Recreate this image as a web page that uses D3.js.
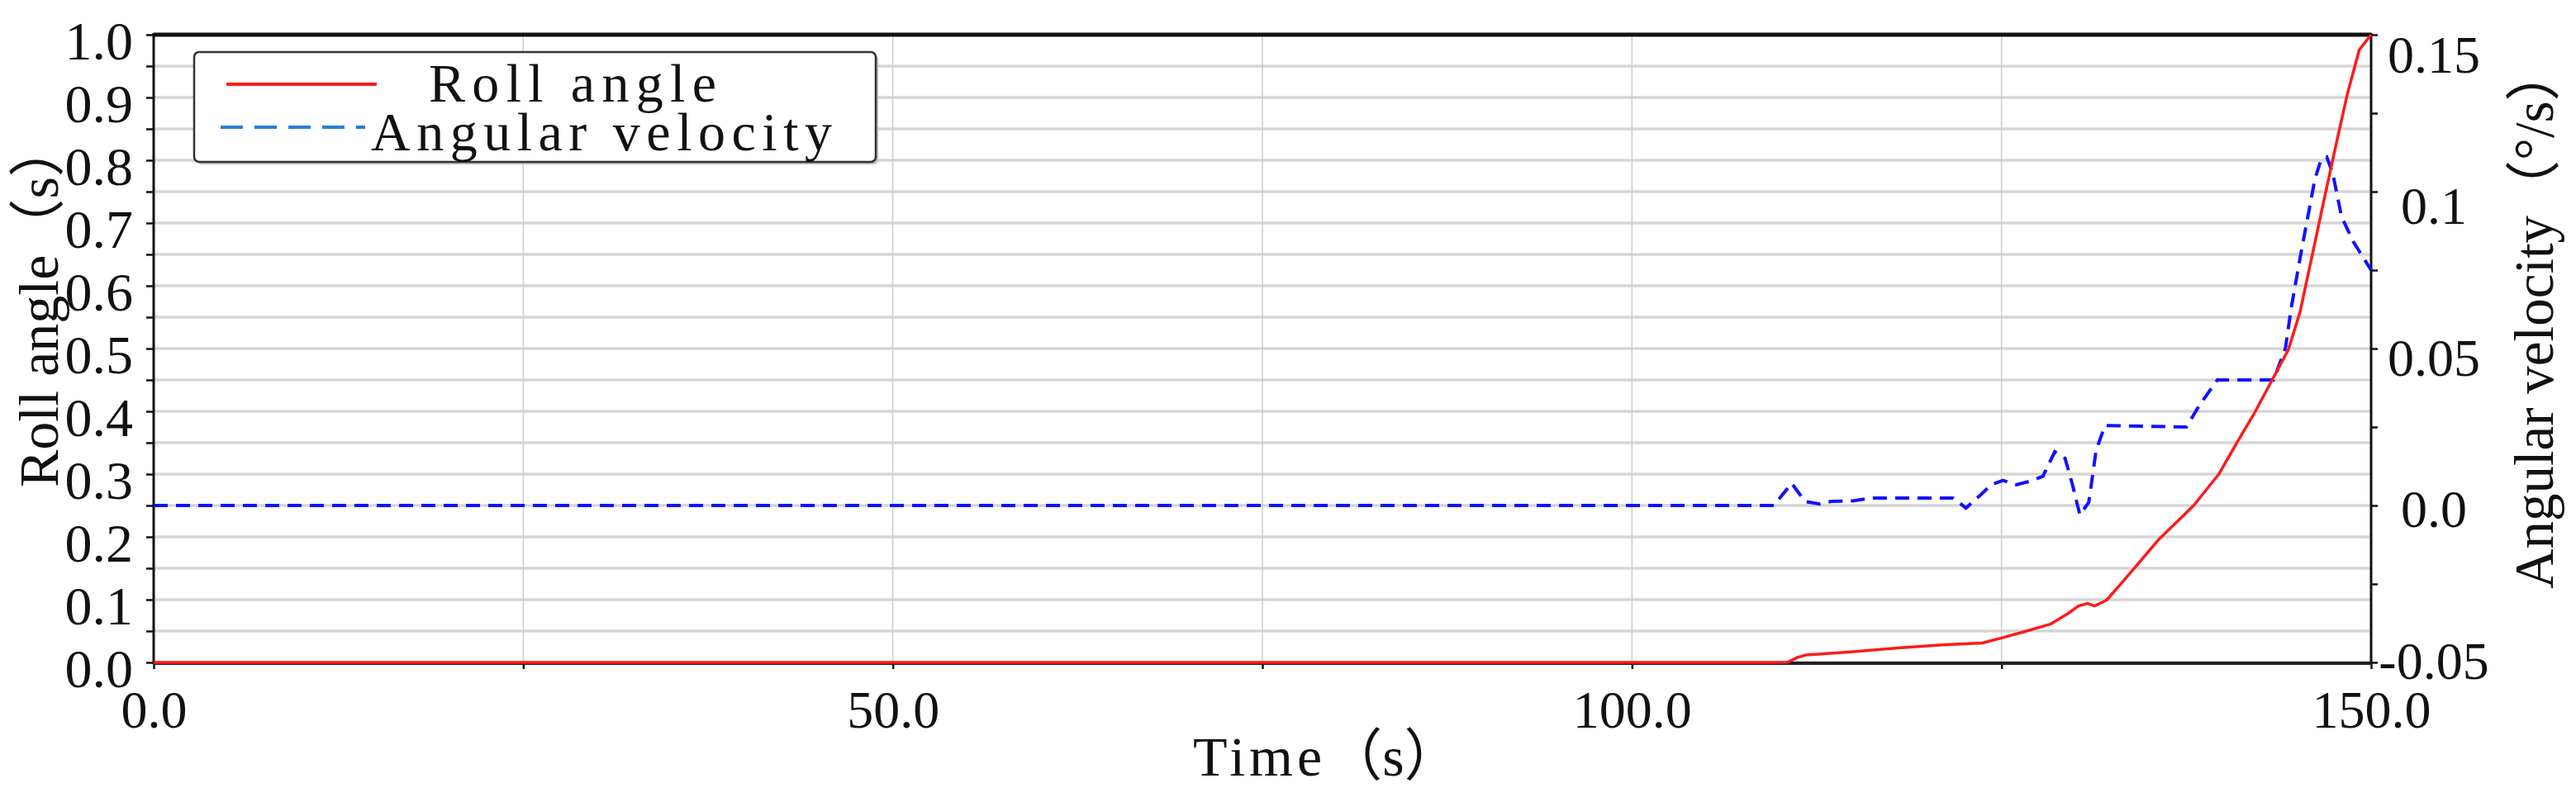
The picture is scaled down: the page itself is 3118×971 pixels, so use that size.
<!DOCTYPE html>
<html lang="en">
    <head>
        <meta charset="UTF-8" />
        <title>Roll angle and angular velocity</title>
        <style>
            body {
                margin: 0;
                padding: 0;
                background-color: #ffffff;
            }
            svg text {
                font-family: 'Liberation Serif', 'Noto Sans CJK SC', serif;
                fill: #111;
            }
        </style>
    </head>
    <body>
        <div id="chart"></div>
        <script src="https://d3js.org/d3.v7.min.js"></script>
        <script>
            // values
            const timeTicks = [0, 25, 50, 75, 100, 125, 150];
            const timeTickLabels = ['0.0', '', '50.0', '', '100.0', '', '150.0'];
            const rollTicks = [0, 0.05, 0.1, 0.15, 0.2, 0.25, 0.3, 0.35, 0.4, 0.45, 0.5, 0.55, 0.6, 0.65, 0.7, 0.75, 0.8, 0.85, 0.9, 0.95, 1.0];
            const rollTickLabels = ['0.0', '', '0.1', '', '0.2', '', '0.3', '', '0.4', '', '0.5', '', '0.6', '', '0.7', '', '0.8', '', '0.9', '', '1.0'];
            const velTicks = [-0.05, -0.025, 0, 0.025, 0.05, 0.075, 0.1, 0.125, 0.15];
            const velTickLabels = ['-0.05', '', '0.0', '', '0.05', '', '0.1', '', '0.15'];

            const rollTime = [0, 110.5, 111.2, 111.8, 115, 118, 121, 123.7, 125, 126.4, 128.3, 129.5, 130.2, 130.8, 131.3, 132.1, 133.4, 135.6, 138, 139.7, 141, 142.1, 143.4, 144.4, 145.2, 146, 146.8, 147.6, 148.4, 149.2, 150];
            const rollAngle = [0, 0, 0.008, 0.012, 0.017, 0.023, 0.028, 0.031, 0.039, 0.048, 0.061, 0.078, 0.09, 0.094, 0.09, 0.099, 0.134, 0.195, 0.25, 0.3, 0.353, 0.397, 0.454, 0.498, 0.559, 0.647, 0.735, 0.822, 0.906, 0.976, 1.0];

            const velTime = [0, 109.6, 110.8, 111.7, 112.7, 113.5, 115.0, 116.3, 120.8, 121.7, 122.6, 123.5, 124.3, 125.1, 126.0, 126.9, 127.8, 128.6, 129.3, 129.8, 130.3, 130.9, 131.4, 132.0, 137.5, 138.4, 139.6, 143.4, 144.2, 144.6, 145.2, 145.8, 146.2, 146.6, 147.0, 147.4, 148.0, 148.8, 150];
            const angVelocity = [0, 0, 0.0071, 0.0013, 0.0005, 0.0013, 0.0015, 0.0024, 0.0024, 0.0024, -0.0008, 0.003, 0.0066, 0.008, 0.0066, 0.0077, 0.0093, 0.0171, 0.015, 0.0066, -0.003, 0.001, 0.0176, 0.0255, 0.025, 0.032, 0.04, 0.04, 0.05, 0.063, 0.079, 0.094, 0.104, 0.11, 0.111, 0.106, 0.092, 0.084, 0.075];

            const W = 3118;
            const H = 971;
            const plotLeft = 186;
            const plotRight = 2870;
            const plotTop = 42;
            const plotBottom = 802;

            const svg = d3.select('#chart').append('svg').attr('width', W).attr('height', H);
            svg.append('rect').attr('width', W).attr('height', H).attr('fill', '#fff');

            const x = d3.scaleLinear().domain([0, 150]).range([plotLeft, plotRight]);
            const yL = d3.scaleLinear().domain([0, 1]).range([plotBottom, plotTop]);
            const yR = d3.scaleLinear().domain([-0.05, 0.15]).range([plotBottom, plotTop]);

            // grid
            svg.append('g')
                .selectAll('line')
                .data(rollTicks)
                .join('line')
                .attr('x1', plotLeft)
                .attr('x2', plotRight)
                .attr('y1', (d) => yL(d))
                .attr('y2', (d) => yL(d))
                .attr('stroke', '#d6d6d6')
                .attr('stroke-width', 3.5);

            svg.append('g')
                .selectAll('line')
                .data(timeTicks.slice(1, -1))
                .join('line')
                .attr('x1', (d) => x(d))
                .attr('x2', (d) => x(d))
                .attr('y1', plotTop)
                .attr('y2', plotBottom)
                .attr('stroke', '#cccccc')
                .attr('stroke-width', 1.5);

            // axes
            const axLeft = svg
                .append('g')
                .attr('transform', `translate(${plotLeft},0)`)
                .call(d3.axisLeft(yL).tickValues(rollTicks).tickSize(9).tickFormat((d, i) => rollTickLabels[i]));
            axLeft.selectAll('text').attr('x', -25).attr('dy', '0.38em').attr('font-size', 66).attr('transform', 'translate(0,4)');

            const axRight = svg
                .append('g')
                .attr('transform', `translate(${plotRight},0)`)
                .call(d3.axisRight(yR).tickValues(velTicks).tickSize(8).tickFormat((d, i) => velTickLabels[i]));
            const labelShift = d3.scaleLinear().domain([-0.05, 0.15]).range([-4, 22]);
            axRight
                .selectAll('text')
                .attr('x', 76)
                .attr('text-anchor', 'middle')
                .attr('dy', '0.36em')
                .attr('font-size', 64)
                .attr('transform', (d) => `translate(0,${labelShift(d)})`);

            const axBottom = svg
                .append('g')
                .attr('transform', `translate(0,${plotBottom})`)
                .call(d3.axisBottom(x).tickValues(timeTicks).tickSize(8).tickFormat((d, i) => timeTickLabels[i]));
            axBottom.selectAll('text').attr('y', 79).attr('dy', 0).attr('font-size', 64);

            [axLeft, axRight, axBottom].forEach((g) => {
                g.select('.domain').remove();
                g.selectAll('.tick line').attr('stroke', '#111').attr('stroke-width', 2.5);
            });

            // frame
            svg.append('line').attr('x1', plotLeft).attr('x2', plotLeft).attr('y1', plotTop - 2).attr('y2', plotBottom + 2).attr('stroke', '#111').attr('stroke-width', 3);
            svg.append('line').attr('x1', plotRight).attr('x2', plotRight).attr('y1', plotTop - 2).attr('y2', plotBottom + 2).attr('stroke', '#111').attr('stroke-width', 3);
            svg.append('line').attr('x1', plotLeft).attr('x2', plotRight).attr('y1', plotTop).attr('y2', plotTop).attr('stroke', '#111').attr('stroke-width', 5);
            svg.append('line').attr('x1', plotLeft).attr('x2', plotRight).attr('y1', plotBottom + 1).attr('y2', plotBottom + 1).attr('stroke', '#222').attr('stroke-width', 4);

            // series
            const rollLine = d3
                .line()
                .x((d, i) => x(rollTime[i]))
                .y((d) => yL(d));
            const velLine = d3
                .line()
                .x((d, i) => x(velTime[i]))
                .y((d) => yR(d));

            svg.append('path').datum(angVelocity).attr('fill', 'none').attr('stroke', '#1212ff').attr('stroke-width', 4).attr('stroke-dasharray', '17,10').attr('d', velLine);
            svg.append('path').datum(rollAngle).attr('fill', 'none').attr('stroke', '#ff1a1a').attr('stroke-width', 3.5).attr('stroke-linejoin', 'round').attr('d', rollLine);

            // legend
            const legend = svg.append('g');
            legend.append('rect').attr('x', 238).attr('y', 66).attr('width', 825).attr('height', 133).attr('rx', 6).attr('fill', '#bbb');
            legend.append('rect').attr('x', 235).attr('y', 63).attr('width', 825).attr('height', 133).attr('rx', 6).attr('fill', '#fff').attr('stroke', '#333').attr('stroke-width', 2.5);
            legend.append('line').attr('x1', 274).attr('x2', 456).attr('y1', 102).attr('y2', 102).attr('stroke', '#ff1a1a').attr('stroke-width', 4);
            legend.append('line').attr('x1', 267).attr('x2', 442).attr('y1', 154).attr('y2', 154).attr('stroke', '#2a7fd0').attr('stroke-width', 4).attr('stroke-dasharray', '27,14');
            legend.append('text').attr('x', 519).attr('y', 123).attr('font-size', 66).attr('textLength', 348).attr('lengthAdjust', 'spacing').text('Roll angle');
            legend.append('text').attr('x', 449).attr('y', 182).attr('font-size', 66).attr('textLength', 558).attr('lengthAdjust', 'spacing').text('Angular velocity');

            // axis titles
            const xTitle = svg.append('text').attr('x', 1444).attr('y', 939).attr('font-size', 68);
            xTitle.append('tspan').attr('letter-spacing', 5).text('Time');
            xTitle.append('tspan').text('（s）');

            svg.append('text').attr('transform', 'translate(70,590) rotate(-90)').attr('font-size', 68).text('Roll angle（s）');

            svg.append('text').attr('transform', 'translate(3090,713) rotate(-90)').attr('font-size', 67).text('Angular velocity（°/s）');
        </script>
    </body>
</html>
